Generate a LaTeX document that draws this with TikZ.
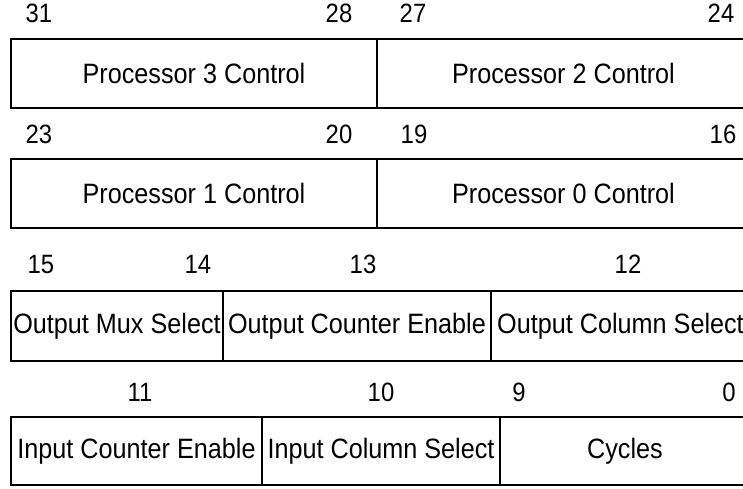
\documentclass[tikz,border=0pt]{standalone}
\usepackage{fontspec}
\setmainfont[FakeStretch=0.9]{Liberation Sans}
\usetikzlibrary{positioning}

\begin{document}
\begin{tikzpicture}[
        x=1pt, y=-1pt,
        field/.style = {draw, rectangle, line width=1.4pt, inner sep=0pt, outer sep=0pt, font=\fontsize{28}{30}\selectfont},
        toprow/.style = {field, minimum height=69pt},
        lowrow/.style = {field, minimum height=70pt},
        bitno/.style = {inner sep=0pt, anchor=base, font=\fontsize{26.5}{28}\selectfont}
    ]
        \useasboundingbox (0,0) rectangle (743,488);

        % Bits 31..24
        \node (b31) [bitno] at (39,22) {31};
        \node (b28) [bitno] at (339,22) {28};
        \node (b27) [bitno] at (413,22) {27};
        \node (b24) [bitno] at (721,22) {24};
        \node (proc3) [toprow, anchor=north west, minimum width=366pt] at (11,39) {Processor 3 Control};
        \node (proc2) [toprow, minimum width=373pt, right=0pt of proc3] {Processor 2 Control};

        % Bits 23..16
        \node (b23) [bitno] at (39,143) {23};
        \node (b20) [bitno] at (339,143) {20};
        \node (b19) [bitno] at (414,143) {19};
        \node (b16) [bitno] at (723,143) {16};
        \node (proc1) [toprow, anchor=north west, minimum width=366pt] at (11,159) {Processor 1 Control};
        \node (proc0) [toprow, minimum width=373pt, right=0pt of proc1] {Processor 0 Control};

        % Bits 15..12
        \node (b15) [bitno] at (41,273) {15};
        \node (b14) [bitno] at (198,273) {14};
        \node (b13) [bitno] at (363,273) {13};
        \node (b12) [bitno] at (628,273) {12};
        \node (outmux) [lowrow, anchor=north west, minimum width=212pt] at (11,291) {Output Mux Select};
        \node (outcnt) [lowrow, minimum width=268pt, right=0pt of outmux] {Output Counter Enable};
        \node (outcol) [lowrow, minimum width=259pt, right=0pt of outcnt] {Output Column Select};

        % Bits 11..0
        \node (b11) [bitno] at (140,401) {11};
        \node (b10) [bitno] at (381,401) {10};
        \node (b9) [bitno] at (519,401) {9};
        \node (b0) [bitno] at (729,401) {0};
        \node (incnt) [field, anchor=north west, minimum width=251pt, minimum height=68pt] at (11,417) {Input Counter Enable};
        \node (incol) [field, minimum width=238pt, minimum height=68pt, right=0pt of incnt] {Input Column Select};
        \node (cycles) [field, minimum width=250pt, minimum height=68pt, right=0pt of incol] {Cycles};

    \end{tikzpicture}
\end{document}
